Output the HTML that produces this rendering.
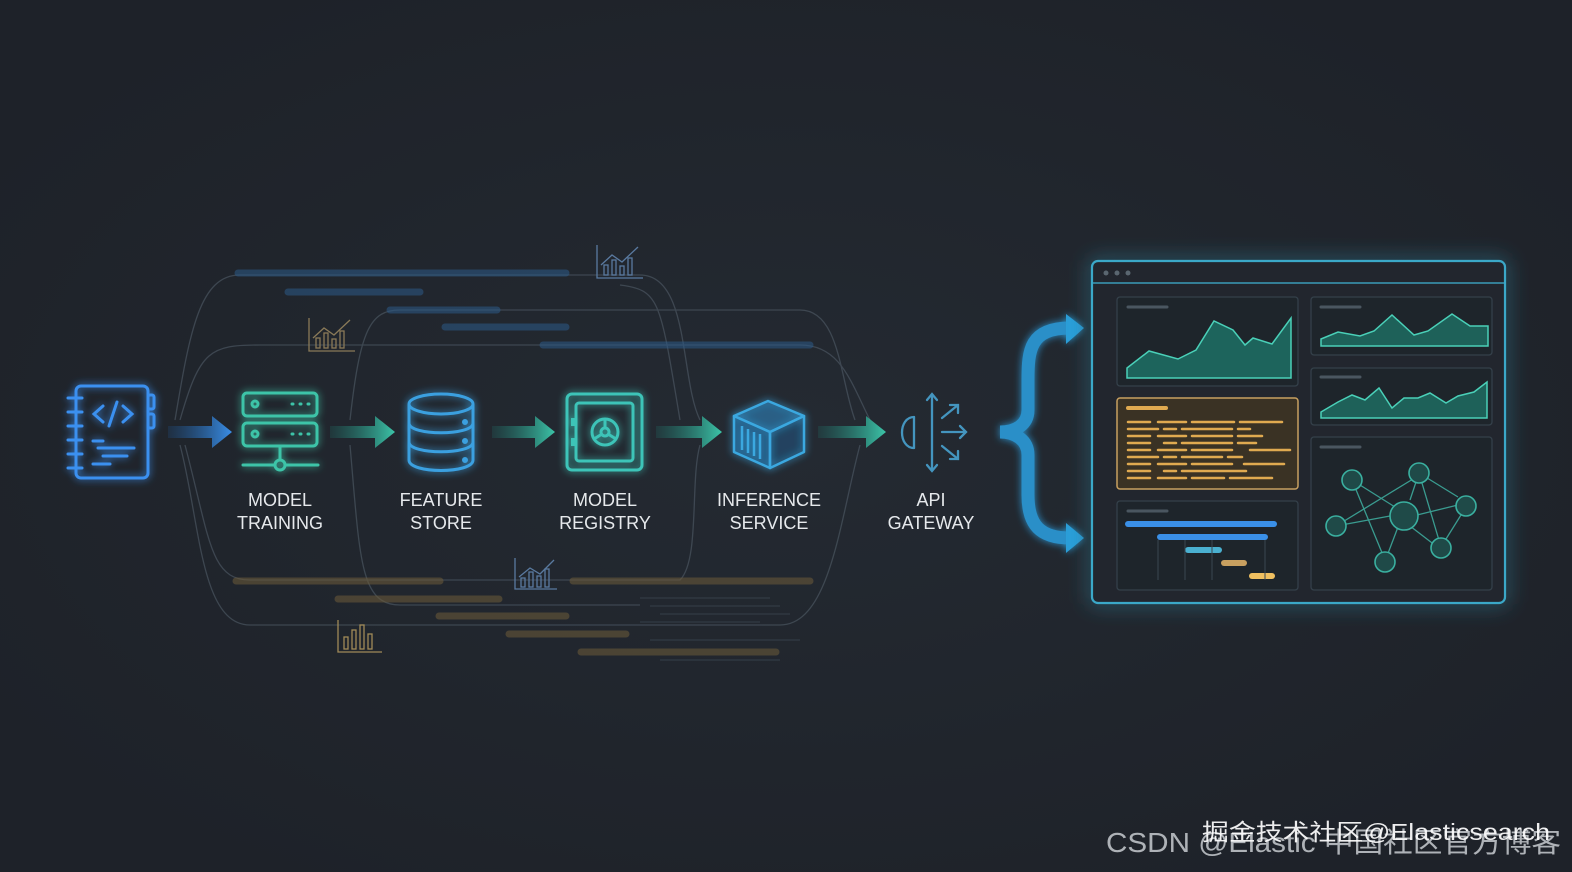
<!DOCTYPE html>
<html><head><meta charset="utf-8"><style>
html,body{margin:0;padding:0;background:#1f242b;}
svg{display:block}
text{font-family:"Liberation Sans","Noto Sans CJK SC",sans-serif;}
</style></head><body>
<svg width="1572" height="872" viewBox="0 0 1572 872" xmlns="http://www.w3.org/2000/svg">
<defs>
<radialGradient id="bg" cx="50%" cy="50%" r="60%"><stop offset="0" stop-color="#242a32"/><stop offset="1" stop-color="#1e2229"/></radialGradient>
<linearGradient id="ab" x1="0" x2="1"><stop offset="0" stop-color="#1e5a9a" stop-opacity="0.2"/><stop offset="1" stop-color="#3a8ee8"/></linearGradient>
<linearGradient id="at" x1="0" x2="1"><stop offset="0" stop-color="#1f7a70" stop-opacity="0.2"/><stop offset="1" stop-color="#3cc4a8"/></linearGradient>
<filter id="gl" x="-30%" y="-30%" width="160%" height="160%"><feGaussianBlur stdDeviation="4" result="b"/><feMerge><feMergeNode in="b"/><feMergeNode in="SourceGraphic"/></feMerge></filter>
<filter id="gl2" x="-10%" y="-10%" width="120%" height="120%"><feGaussianBlur stdDeviation="10" result="b"/><feMerge><feMergeNode in="b"/><feMergeNode in="SourceGraphic"/></feMerge></filter>
</defs>
<rect width="1572" height="872" fill="url(#bg)"/>

<g fill="none" stroke="#4a5560" stroke-width="1.3" opacity="0.7">
<path d="M175 420 C190 330 200 275 240 275 L640 275 C690 275 680 380 700 420"/>
<path d="M180 420 C200 350 210 345 260 345 L800 345 C840 345 850 380 870 420"/>
<path d="M180 445 C200 520 200 625 250 625 L780 625 C830 625 840 520 860 445"/>
<path d="M185 445 C210 540 210 580 250 580 L680 580 C700 560 690 480 700 445"/>
<path d="M350 420 C360 330 370 310 400 310 L800 310 C840 310 840 380 855 420"/>
<path d="M350 445 C360 560 360 605 400 605 L640 605"/>
<path d="M680 420 C660 300 660 290 620 285"/>
</g>
<g stroke-linecap="round" stroke-width="7" opacity="0.55">
<line x1="238" y1="273" x2="566" y2="273" stroke="#2c5a88"/>
<line x1="288" y1="292" x2="420" y2="292" stroke="#2c5a88"/>
<line x1="390" y1="310" x2="497" y2="310" stroke="#2c5a88"/>
<line x1="445" y1="327" x2="566" y2="327" stroke="#2c5a88"/>
<line x1="543" y1="345" x2="810" y2="345" stroke="#2c5a88"/>
<line x1="236" y1="581" x2="440" y2="581" stroke="#6e5c3a"/>
<line x1="573" y1="581" x2="810" y2="581" stroke="#6e5c3a"/>
<line x1="338" y1="599" x2="499" y2="599" stroke="#6e5c3a"/>
<line x1="439" y1="616" x2="566" y2="616" stroke="#6e5c3a"/>
<line x1="509" y1="634" x2="626" y2="634" stroke="#6e5c3a"/>
<line x1="581" y1="652" x2="776" y2="652" stroke="#6e5c3a"/>
</g>
<g stroke="#3a4650" stroke-width="1" opacity="0.8">
<line x1="640" y1="598" x2="770" y2="598"/><line x1="650" y1="606" x2="780" y2="606"/><line x1="660" y1="614" x2="790" y2="614"/><line x1="640" y1="622" x2="760" y2="622"/><line x1="650" y1="640" x2="800" y2="640"/><line x1="660" y1="660" x2="780" y2="660"/>
</g>
<g fill="none" stroke-width="1.3">
<g stroke="#5a7aa0"><path d="M597 245 V278 H643"/><path d="M601 265 L612 255 L622 262 L638 247"/><rect x="604" y="265" width="4" height="10"/><rect x="612" y="260" width="4" height="15"/><rect x="620" y="266" width="4" height="9"/><rect x="628" y="258" width="4" height="17"/></g>
<g stroke="#8a7a58"><path d="M309 318 V351 H355"/><path d="M313 338 L324 328 L334 335 L350 320"/><rect x="316" y="338" width="4" height="10"/><rect x="324" y="333" width="4" height="15"/><rect x="332" y="339" width="4" height="9"/><rect x="340" y="331" width="4" height="17"/></g>
<g stroke="#5a7aa0"><path d="M515 558 V589 H557"/><path d="M519 577 L530 568 L540 574 L554 560"/><rect x="521" y="578" width="4" height="9"/><rect x="529" y="572" width="4" height="15"/><rect x="537" y="576" width="4" height="11"/><rect x="545" y="569" width="4" height="18"/></g>
<g stroke="#a08a58"><path d="M338 620 V652 H382"/><rect x="344" y="637" width="4" height="12"/><rect x="352" y="630" width="4" height="19"/><rect x="360" y="625" width="4" height="24"/><rect x="368" y="634" width="4" height="15"/></g>
</g>

<g>
<path d="M168 426 H212 V416 L232 432 L212 448 V438 H168 Z" fill="url(#ab)"/>
<path d="M330 426 H375 V416 L395 432 L375 448 V438 H330 Z" fill="url(#at)"/>
<path d="M492 426 H535 V416 L555 432 L535 448 V438 H492 Z" fill="url(#at)"/>
<path d="M656 426 H702 V416 L722 432 L702 448 V438 H656 Z" fill="url(#at)"/>
<path d="M818 426 H866 V416 L886 432 L866 448 V438 H818 Z" fill="url(#at)"/>
</g>

<g filter="url(#gl)" fill="none" stroke="#3a90f0" stroke-width="3" stroke-linecap="round">
<rect x="76" y="386" width="72" height="92" rx="5"/>
<line x1="68" y1="398" x2="82" y2="398"/><line x1="68" y1="412" x2="82" y2="412"/><line x1="68" y1="426" x2="82" y2="426"/><line x1="68" y1="440" x2="82" y2="440"/><line x1="68" y1="454" x2="82" y2="454"/><line x1="68" y1="468" x2="82" y2="468"/>
<rect x="148" y="395" width="6" height="14" rx="2"/><rect x="148" y="414" width="6" height="14" rx="2"/>
<path d="M103 406 L94 414 L103 422 M123 406 L132 414 L123 422 M117 402 L109 426"/>
<line x1="93" y1="441" x2="103" y2="441"/><line x1="98" y1="448" x2="134" y2="448"/><line x1="103" y1="456" x2="127" y2="456"/><line x1="93" y1="464" x2="110" y2="464"/>
</g>
<g filter="url(#gl)" fill="none" stroke="#3cc4a8" stroke-width="3" stroke-linecap="round">
<rect x="243" y="393" width="74" height="23" rx="4"/><rect x="243" y="423" width="74" height="23" rx="4"/>
<circle cx="255" cy="404" r="3"/><circle cx="255" cy="434" r="3"/>
<path d="M292 404h1M300 404h1M308 404h1M292 434h1M300 434h1M308 434h1"/>
<line x1="280" y1="446" x2="280" y2="459"/><circle cx="280" cy="465" r="5"/>
<line x1="243" y1="465" x2="274" y2="465"/><line x1="286" y1="465" x2="318" y2="465"/>
</g>
<g filter="url(#gl)" fill="none" stroke="#3aa0e0" stroke-width="3">
<ellipse cx="441" cy="404" rx="32" ry="10"/>
<path d="M409 404 V460 C409 474 473 474 473 460 V404"/>
<path d="M409 423 C409 436 473 436 473 423"/><path d="M409 442 C409 455 473 455 473 442"/>
<circle cx="465" cy="422" r="1.5" fill="#3aa0e0"/><circle cx="465" cy="441" r="1.5" fill="#3aa0e0"/><circle cx="465" cy="460" r="1.5" fill="#3aa0e0"/>
</g>
<g filter="url(#gl)" fill="none" stroke="#3cc4b8" stroke-width="3">
<rect x="567" y="394" width="75" height="76" rx="5"/><rect x="576" y="403" width="57" height="58" rx="3"/>
<circle cx="605" cy="432" r="13"/><circle cx="605" cy="432" r="4"/>
<path d="M605 428 V419 M602 434 L594 439 M608 434 L616 439"/>
<line x1="573" y1="418" x2="573" y2="426" stroke-width="4"/><line x1="573" y1="438" x2="573" y2="446" stroke-width="4"/>
</g>
<g filter="url(#gl)" stroke="#3aa8e0" stroke-width="2.5" stroke-linejoin="round">
<path d="M734 416 L768 401 L804 416 L770 432 Z" fill="#2d86c4" fill-opacity="0.35"/>
<path d="M734 416 V452 L770 468 V432 Z" fill="#1e6aa0" fill-opacity="0.4"/>
<path d="M770 432 L804 416 V452 L770 468 Z" fill="#1d5b8c" fill-opacity="0.3"/>
<path d="M742 426 V450 M748 429 V453 M754 432 V456 M760 434 V459" fill="none"/>
</g>
<g fill="none" stroke="#4aa8d8" stroke-width="2.3" stroke-linecap="round" opacity="0.85">
<path d="M914 417 C898 417 898 448 914 448"/><line x1="914" y1="417" x2="914" y2="448"/>
<line x1="932" y1="395" x2="932" y2="470"/><path d="M927 400 L932 394 L937 400 M927 465 L932 471 L937 465"/>
<path d="M942 418 L958 405 M950 405 H958 V413"/><path d="M942 432 H966 M960 426 L966 432 L960 438"/><path d="M942 446 L958 459 M950 459 H958 V451"/>
</g>

<g fill="#e6e9ec" font-size="18" text-anchor="middle">
<text x="280" y="506">MODEL</text><text x="280" y="529">TRAINING</text>
<text x="441" y="506">FEATURE</text><text x="441" y="529">STORE</text>
<text x="605" y="506">MODEL</text><text x="605" y="529">REGISTRY</text>
<text x="769" y="506">INFERENCE</text><text x="769" y="529">SERVICE</text>
<text x="931" y="506">API</text><text x="931" y="529">GATEWAY</text>
</g>

<g filter="url(#gl)">
<path d="M1070 328 C1030 328 1028 350 1028 380 V410 C1028 425 1015 432 1000 432 C1015 432 1028 440 1028 455 V495 C1028 525 1040 538 1070 538" fill="none" stroke="#2a8fc8" stroke-width="13" stroke-linecap="round"/>
<path d="M1066 314 L1084 328 L1066 344 Z" fill="#2a9ed8"/>
<path d="M1066 523 L1084 538 L1066 553 Z" fill="#2a9ed8"/>
</g>

<rect x="1092" y="261" width="413" height="342" rx="6" fill="#20272e" stroke="#3aa8c8" stroke-width="2.2" filter="url(#gl2)"/>
<line x1="1093" y1="283" x2="1504" y2="283" stroke="#3a9cb8" stroke-width="1.5"/>
<circle cx="1106" cy="273" r="2.5" fill="#5a6670"/><circle cx="1117" cy="273" r="2.5" fill="#5a6670"/><circle cx="1128" cy="273" r="2.5" fill="#5a6670"/>
<g fill="#1e252b" stroke="#34404a" stroke-width="1.3">
<rect x="1117" y="297" width="181" height="89" rx="3"/>
<rect x="1311" y="297" width="181" height="58" rx="3"/>
<rect x="1311" y="368" width="181" height="57" rx="3"/>
<rect x="1311" y="437" width="181" height="153" rx="3"/>
<rect x="1117" y="501" width="181" height="89" rx="3"/>
</g>
<rect x="1117" y="398" width="181" height="91" rx="3" fill="#3a3224" stroke="#c8a060" stroke-width="1.5"/>
<g stroke="#4a5660" stroke-width="3" stroke-linecap="round">
<line x1="1128" y1="307" x2="1167" y2="307"/><line x1="1321" y1="307" x2="1360" y2="307"/><line x1="1321" y1="377" x2="1360" y2="377"/><line x1="1321" y1="447" x2="1360" y2="447"/><line x1="1128" y1="511" x2="1167" y2="511"/>
</g>
<path d="M1127 368 L1149 351 L1178 359 L1196 350 L1214 321 L1233 330 L1245 345 L1253 338 L1272 344 L1291 318 V378 H1127 Z" fill="#1e7a6e" fill-opacity="0.75" stroke="#4ad0b8" stroke-width="1.5"/>
<path d="M1321 339 L1338 332 L1360 336 L1374 331 L1392 315 L1414 335 L1428 331 L1452 314 L1470 326 L1488 326 V346 H1321 Z" fill="#1e7a6e" fill-opacity="0.7" stroke="#4ad0b8" stroke-width="1.5"/>
<path d="M1321 412 L1338 402 L1352 395 L1365 400 L1379 388 L1392 408 L1404 398 L1418 398 L1430 393 L1446 403 L1458 396 L1474 392 L1487 382 V418 H1321 Z" fill="#1e7a6e" fill-opacity="0.7" stroke="#4ad0b8" stroke-width="1.5"/>
<g stroke="#e0aa50" stroke-width="2.5" stroke-linecap="round">
<line x1="1128" y1="408" x2="1166" y2="408" stroke-width="4"/>
<line x1="1128" y1="422" x2="1150" y2="422"/><line x1="1158" y1="422" x2="1186" y2="422"/><line x1="1192" y1="422" x2="1234" y2="422"/><line x1="1240" y1="422" x2="1282" y2="422"/>
<line x1="1128" y1="429" x2="1158" y2="429"/><line x1="1164" y1="429" x2="1176" y2="429"/><line x1="1182" y1="429" x2="1232" y2="429"/><line x1="1238" y1="429" x2="1250" y2="429"/>
<line x1="1128" y1="436" x2="1150" y2="436"/><line x1="1158" y1="436" x2="1186" y2="436"/><line x1="1192" y1="436" x2="1232" y2="436"/><line x1="1238" y1="436" x2="1262" y2="436"/>
<line x1="1128" y1="443" x2="1150" y2="443"/><line x1="1164" y1="443" x2="1176" y2="443"/><line x1="1182" y1="443" x2="1232" y2="443"/><line x1="1238" y1="443" x2="1256" y2="443"/>
<line x1="1128" y1="450" x2="1150" y2="450"/><line x1="1158" y1="450" x2="1186" y2="450"/><line x1="1192" y1="450" x2="1232" y2="450"/><line x1="1250" y1="450" x2="1290" y2="450"/>
<line x1="1128" y1="457" x2="1158" y2="457"/><line x1="1164" y1="457" x2="1176" y2="457"/><line x1="1182" y1="457" x2="1222" y2="457"/><line x1="1228" y1="457" x2="1242" y2="457"/>
<line x1="1128" y1="464" x2="1150" y2="464"/><line x1="1158" y1="464" x2="1186" y2="464"/><line x1="1192" y1="464" x2="1232" y2="464"/><line x1="1244" y1="464" x2="1284" y2="464"/>
<line x1="1128" y1="471" x2="1150" y2="471"/><line x1="1164" y1="471" x2="1176" y2="471"/><line x1="1182" y1="471" x2="1246" y2="471"/>
<line x1="1128" y1="478" x2="1150" y2="478"/><line x1="1158" y1="478" x2="1186" y2="478"/><line x1="1192" y1="478" x2="1224" y2="478"/><line x1="1230" y1="478" x2="1272" y2="478"/>
</g>
<g stroke-linecap="round" stroke-width="6">
<line x1="1128" y1="524" x2="1274" y2="524" stroke="#3a90e8"/>
<line x1="1160" y1="537" x2="1265" y2="537" stroke="#3a90e8"/>
<line x1="1188" y1="550" x2="1219" y2="550" stroke="#4ab0d0"/>
<line x1="1224" y1="563" x2="1244" y2="563" stroke="#c8a060"/>
<line x1="1252" y1="576" x2="1272" y2="576" stroke="#f0c060"/>
</g>
<g stroke="#3a4650" stroke-width="1"><line x1="1158" y1="540" x2="1158" y2="580"/><line x1="1185" y1="540" x2="1185" y2="580"/><line x1="1212" y1="540" x2="1212" y2="580"/><line x1="1265" y1="540" x2="1265" y2="580"/></g>
<g stroke="#3a9c90" stroke-width="1.3" fill="none">
<line x1="1352" y1="480" x2="1395" y2="507"/><line x1="1336" y1="526" x2="1390" y2="516"/><line x1="1336" y1="526" x2="1413" y2="479"/><line x1="1352" y1="480" x2="1385" y2="560"/>
<line x1="1419" y1="473" x2="1410" y2="500"/><line x1="1419" y1="473" x2="1441" y2="547"/><line x1="1419" y1="473" x2="1458" y2="497"/><line x1="1413" y1="516" x2="1462" y2="504"/>
<line x1="1410" y1="526" x2="1436" y2="546"/><line x1="1398" y1="527" x2="1387" y2="556"/><line x1="1441" y1="547" x2="1466" y2="507"/>
</g>
<g fill="#1f4a48" stroke="#3ab0a0" stroke-width="1.6">
<circle cx="1352" cy="480" r="10"/><circle cx="1419" cy="473" r="10"/><circle cx="1404" cy="516" r="14"/><circle cx="1466" cy="506" r="10"/><circle cx="1336" cy="526" r="10"/><circle cx="1441" cy="548" r="10"/><circle cx="1385" cy="562" r="10"/>
</g>

<text x="1106" y="852" fill="#c8ccd0" font-size="28" opacity="0.85" textLength="455" lengthAdjust="spacingAndGlyphs">CSDN @Elastic 中国社区官方博客</text>
<text x="1202" y="840" fill="#ffffff" font-size="23" opacity="0.92" textLength="348" lengthAdjust="spacingAndGlyphs">掘金技术社区@Elasticsearch</text>
</svg>
</body></html>
